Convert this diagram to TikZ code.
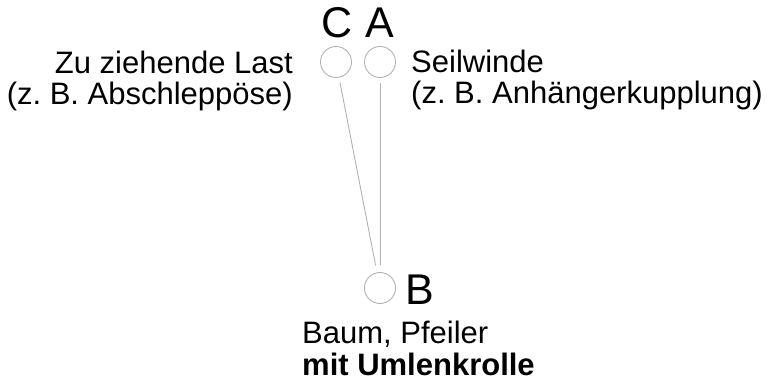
\documentclass[tikz,border=0pt]{standalone}
\usepackage{fontspec}
\setmainfont{Liberation Sans}
\usetikzlibrary{positioning}
\definecolor{ropeGrey}{RGB}{178,178,178}
\frenchspacing

\begin{document}
\begin{tikzpicture}[x=1pt, y=-1pt,
        point/.style={draw=ropeGrey, circle, minimum size=31pt, inner sep=0pt, line width=0.9pt},
        rope/.style={draw=ropeGrey, line width=0.9pt, shorten <=5pt, shorten >=7pt},
        letter/.style={font=\fontsize{43}{43}\selectfont, inner sep=0pt, anchor=base},
        label left/.style={font=\fontsize{31}{31.5}\selectfont, inner sep=0pt, align=right, anchor=base east},
        label right/.style={font=\fontsize{31}{31.5}\selectfont, inner sep=0pt, align=left, anchor=base west}
    ]
    \useasboundingbox (0,0) rectangle (768,382);

    \node[point] (c) at (336,62) {};
    \node[point] (a) at (380,62) {};
    \node[point] (b) at (380,288) {};

    \node[letter] (c name) at (337.5,38) {C};
    \node[letter] (a name) at (380,38) {A};
    \node[letter] (b name) at (420,304) {B};

    \draw[rope] (c) -- (b);
    \draw[rope] (a) -- (b);

    % anchors sit on the baseline of the last line
    \node[label left] (load) at (293,105) {Zu ziehende Last\\(z. B. Abschleppöse)};
    \node[label right] (winch) at (411,104) {Seilwinde\\(z. B. Anhängerkupplung)};
    \node[label right] (tree) at (302,375) {Baum, Pfeiler\\\textbf{mit Umlenkrolle}};

\end{tikzpicture}
\end{document}
